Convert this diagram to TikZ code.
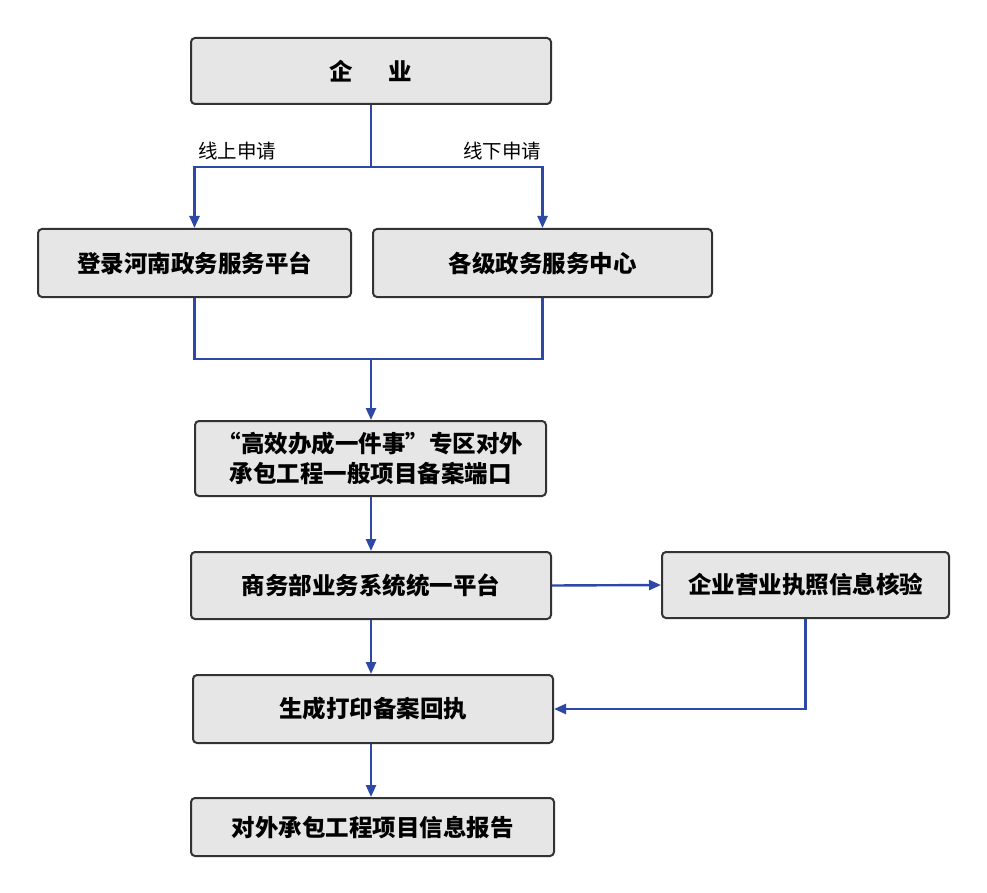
\documentclass[tikz,border=0pt]{standalone}
\usepackage{fontspec}
\setmainfont{Noto Sans CJK SC}
\usetikzlibrary{arrows.meta}
\definecolor{ln}{HTML}{2E48A6}
\definecolor{bx}{HTML}{E6E6E6}
\begin{document}
\begin{tikzpicture}[x=1pt,y=-1pt,
  box/.style={draw=black!80,fill=bx,line width=2pt,rounded corners=4pt,inner sep=0pt,font=\fontsize{23.5}{30}\selectfont\bfseries,align=center},
  ar/.style={draw=ln,line width=2.4pt,-{Triangle[length=12pt,width=10pt]}},
  li/.style={draw=ln,line width=2.4pt},
  lab/.style={font=\fontsize{19.5}{22}\selectfont}]
\useasboundingbox (0,0) rectangle (987,893);
\node[box,minimum width=360,minimum height=66] (qy) at (371,71) {企\hspace{1.5em}业};
\node[box,minimum width=313,minimum height=68] (dl) at (194.5,263) {登录河南政务服务平台};
\node[box,minimum width=339,minimum height=68] (gj) at (542.5,263) {各级政务服务中心};
\node[box,minimum width=351,minimum height=75] (gx) at (370.5,458.5) {“高效办成一件事”专区对外\\承包工程一般项目备案端口};
\node[box,minimum width=360,minimum height=67] (sw) at (371,585.5) {商务部业务系统统一平台};
\node[box,minimum width=287,minimum height=66] (yy) at (805.5,585) {企业营业执照信息核验};
\node[box,minimum width=360,minimum height=68] (sc) at (373,709) {生成打印备案回执};
\node[box,minimum width=363,minimum height=58] (dw) at (372.5,827) {对外承包工程项目信息报告};
\coordinate (j1) at (371,167);
\coordinate (j2) at (371,359);
\draw[li] (qy.south -| j1) -- (j1);
\draw[ar] (j1) -| (dl.north);
\draw[ar] (j1) -| (gj.north);
\node[lab] (l1) at (237,151) {线上申请};
\node[lab] (l2) at (502,151) {线下申请};
\draw[li] (dl.south) |- (j2);
\draw[li] (gj.south) |- (j2);
\draw[ar] (j2) -- (gx.north -| j2);
\draw[ar] (gx.south -| j2) -- (sw.north -| j2);
\draw[ar] (sw.east) -- (yy.west);
\draw[ar] (sw.south -| j2) -- (sc.north -| j2);
\draw[ar] (yy.south) |- (sc.east);
\draw[ar] (sc.south -| j2) -- (dw.north -| j2);
\end{tikzpicture}
\end{document}
